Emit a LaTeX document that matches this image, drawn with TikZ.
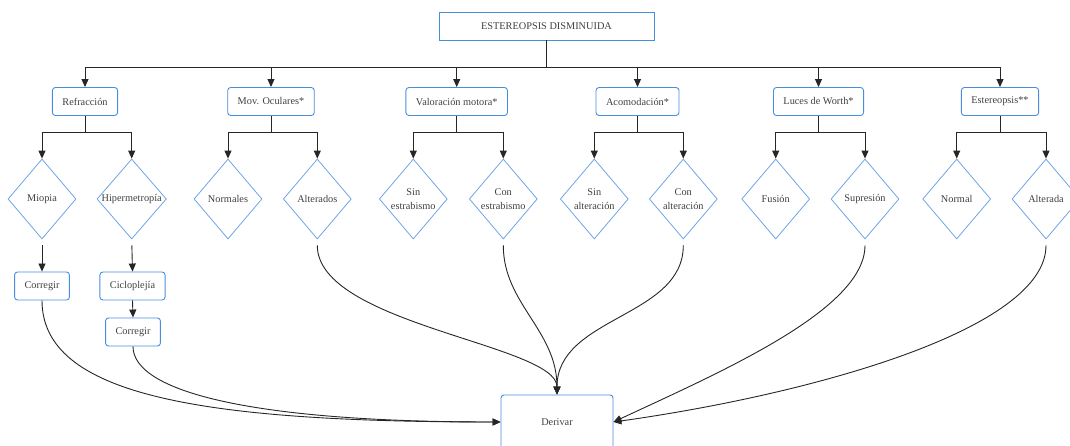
\documentclass[tikz,border=0pt]{standalone}
\usepackage{fontspec}
\setmainfont{Liberation Serif}
\usetikzlibrary{shapes.geometric,arrows.meta}

\begin{document}
\begin{tikzpicture}[x=1pt, y=1pt, >={Triangle[length=8pt,width=7pt]},
		font=\fontsize{10.3}{14}\selectfont,
		caja/.style={draw=azulcaja, line width=0.9pt, rounded corners=3pt, minimum height=28pt, inner xsep=10pt, text=black!75},
		rombo/.style={draw=azulrombo, line width=0.8pt, diamond, minimum width=68pt, minimum height=80pt, inner sep=0pt, align=center, text=black!75},
		conector/.style={->, line width=0.9pt, black!85}]
		\definecolor{azulcaja}{RGB}{70, 142, 222}
		\definecolor{azulrombo}{RGB}{110, 165, 230}
		
		\useasboundingbox (0,0) rectangle (1070,-446);
		
		% cabecera
		\node[caja, rounded corners=0pt, minimum width=215pt] (titulo) at (546.5,-26) {ESTEREOPSIS DISMINUIDA};
		
		% primer nivel
		\node[caja] (refr)   at (85,-101.5)  {Refracción};
		\node[caja] (movoc)  at (271,-101.5) {Mov. Oculares*};
		\node[caja] (valmot) at (456.7,-101.5) {Valoración motora*};
		\node[caja] (acom)   at (637.5,-101.5) {Acomodación*};
		\node[caja] (worth)  at (818.5,-101.5) {Luces de Worth*};
		\node[caja] (ester)  at (1000,-101.5) {Estereopsis**};
		
		% segundo nivel
		\node[rombo] (miopia)    at (42,-199)    {Miopia};
		\node[rombo] (hiper)     at (131.7,-199) {Hipermetropía};
		\node[rombo] (normales)  at (228,-199)   {Normales};
		\node[rombo] (alterados) at (317.3,-199) {Alterados};
		\node[rombo] (sinestr)   at (413.3,-199) {Sin\\estrabismo};
		\node[rombo] (conestr)   at (503.3,-199) {Con\\estrabismo};
		\node[rombo] (sinalt)    at (594.3,-199) {Sin\\alteración};
		\node[rombo] (conalt)    at (683.3,-199) {Con\\alteración};
		\node[rombo] (fusion)    at (775.7,-199) {Fusión};
		\node[rombo] (supresion) at (865,-199)   {Supresión};
		\node[rombo] (normal)    at (956.7,-199) {Normal};
		\node[rombo] (alterada)  at (1046,-199)  {Alterada};
		
		% tratamiento
		\node[caja] (corr1)  at (42,-286)    {Corregir};
		\node[caja] (ciclo)  at (132.5,-286) {Cicloplejía};
		\node[caja] (corr2)  at (133,-332)   {Corregir};
		\node[caja, minimum width=112pt, minimum height=54pt] (derivar) at (557,-422) {Derivar};
		
		% ramas
		\foreach \n in {refr,movoc,valmot,acom,worth,ester}
			\draw[conector] (titulo.south) -- ++(0,-27.5) -| (\n.north);
		\foreach \p/\a/\b in {refr/miopia/hiper, movoc/normales/alterados, valmot/sinestr/conestr,
				acom/sinalt/conalt, worth/fusion/supresion, ester/normal/alterada} {
			\draw[conector] (\p.south) -- ++(0,-16.5) -| (\a.north);
			\draw[conector] (\p.south) -- ++(0,-16.5) -| (\b.north);
		}
		
		\draw[conector, shorten <=6pt] (miopia.south) -- (corr1.north);
		\draw[conector, shorten <=6pt] (hiper.south) -- (ciclo.north);
		\draw[conector] (ciclo.south) -- (corr2.north);
		
		% hacia derivar
		\draw[conector] (corr1.south) to[out=-90, in=180, out distance=95pt, in distance=300pt] (derivar.west);
		\draw[conector] (corr2.south) to[out=-90, in=180, out distance=45pt, in distance=250pt] (derivar.west);
		\draw[conector, shorten <=6pt] (alterados.south) to[out=-90, in=90, out distance=85pt, in distance=50pt] (derivar.north);
		\draw[conector, shorten <=6pt] (conestr.south) to[out=-90, in=90] (derivar.north);
		\draw[conector, shorten <=6pt] (conalt.south) to[out=-90, in=90] (derivar.north);
		\draw[conector, shorten <=6pt] (supresion.south) to[out=-90, in=25, out distance=70pt, in distance=120pt] (derivar.east);
		\draw[conector, shorten <=6pt] (alterada.south) to[out=-90, in=8, out distance=90pt, in distance=200pt] (derivar.east);
\end{tikzpicture}
\end{document}
